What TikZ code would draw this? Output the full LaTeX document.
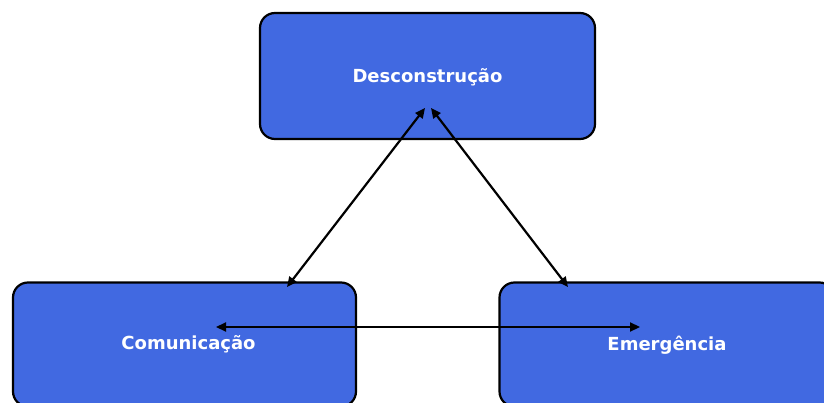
\documentclass[tikz,border=0pt]{standalone}
\usepackage{fontspec}
\setmainfont{DejaVu Sans}
\usetikzlibrary{arrows.meta}
\definecolor{caixa}{HTML}{4169E1}
\begin{document}
\begin{tikzpicture}[x=1pt, y=-1pt]
	\tikzstyle{bloco} = [rectangle, rounded corners=15pt, draw=black, line width=2.2pt, fill=caixa, inner sep=0pt]
	\tikzstyle{rotulo} = [text=white, font=\fontsize{18}{22}\selectfont\bfseries, text height=13.1pt, text depth=0pt, inner sep=0pt]
	\tikzstyle{seta} = [{Triangle[length=10pt,width=9pt]}-{Triangle[length=10pt,width=9pt]}, line width=2.2pt]

	\useasboundingbox (0,0) rectangle (824,403);

	\node[bloco, minimum width=335pt, minimum height=126pt, label={[rotulo]center:Desconstrução}] (desc) at (427.5, 76) {};
	\node[bloco, minimum width=343pt, minimum height=124pt, label={[rotulo, xshift=4pt, yshift=2pt]center:Comunicação}] (comu) at (184.5, 344.5) {};
	\node[bloco, minimum width=335pt, minimum height=124pt, label={[rotulo, yshift=1pt]center:Emergência}] (emer) at (667, 344.5) {};

	\foreach \nome/\x/\y in {dA/425/108, dB/431/108, cA/287/287, cB/216/327, eA/568/287, eB/640/327}
		\coordinate (\nome) at (\x, \y);

	\foreach \from/\to in {dA/cA, dB/eA, cB/eB}
		\draw[seta] (\from) -- (\to);
\end{tikzpicture}
\end{document}
